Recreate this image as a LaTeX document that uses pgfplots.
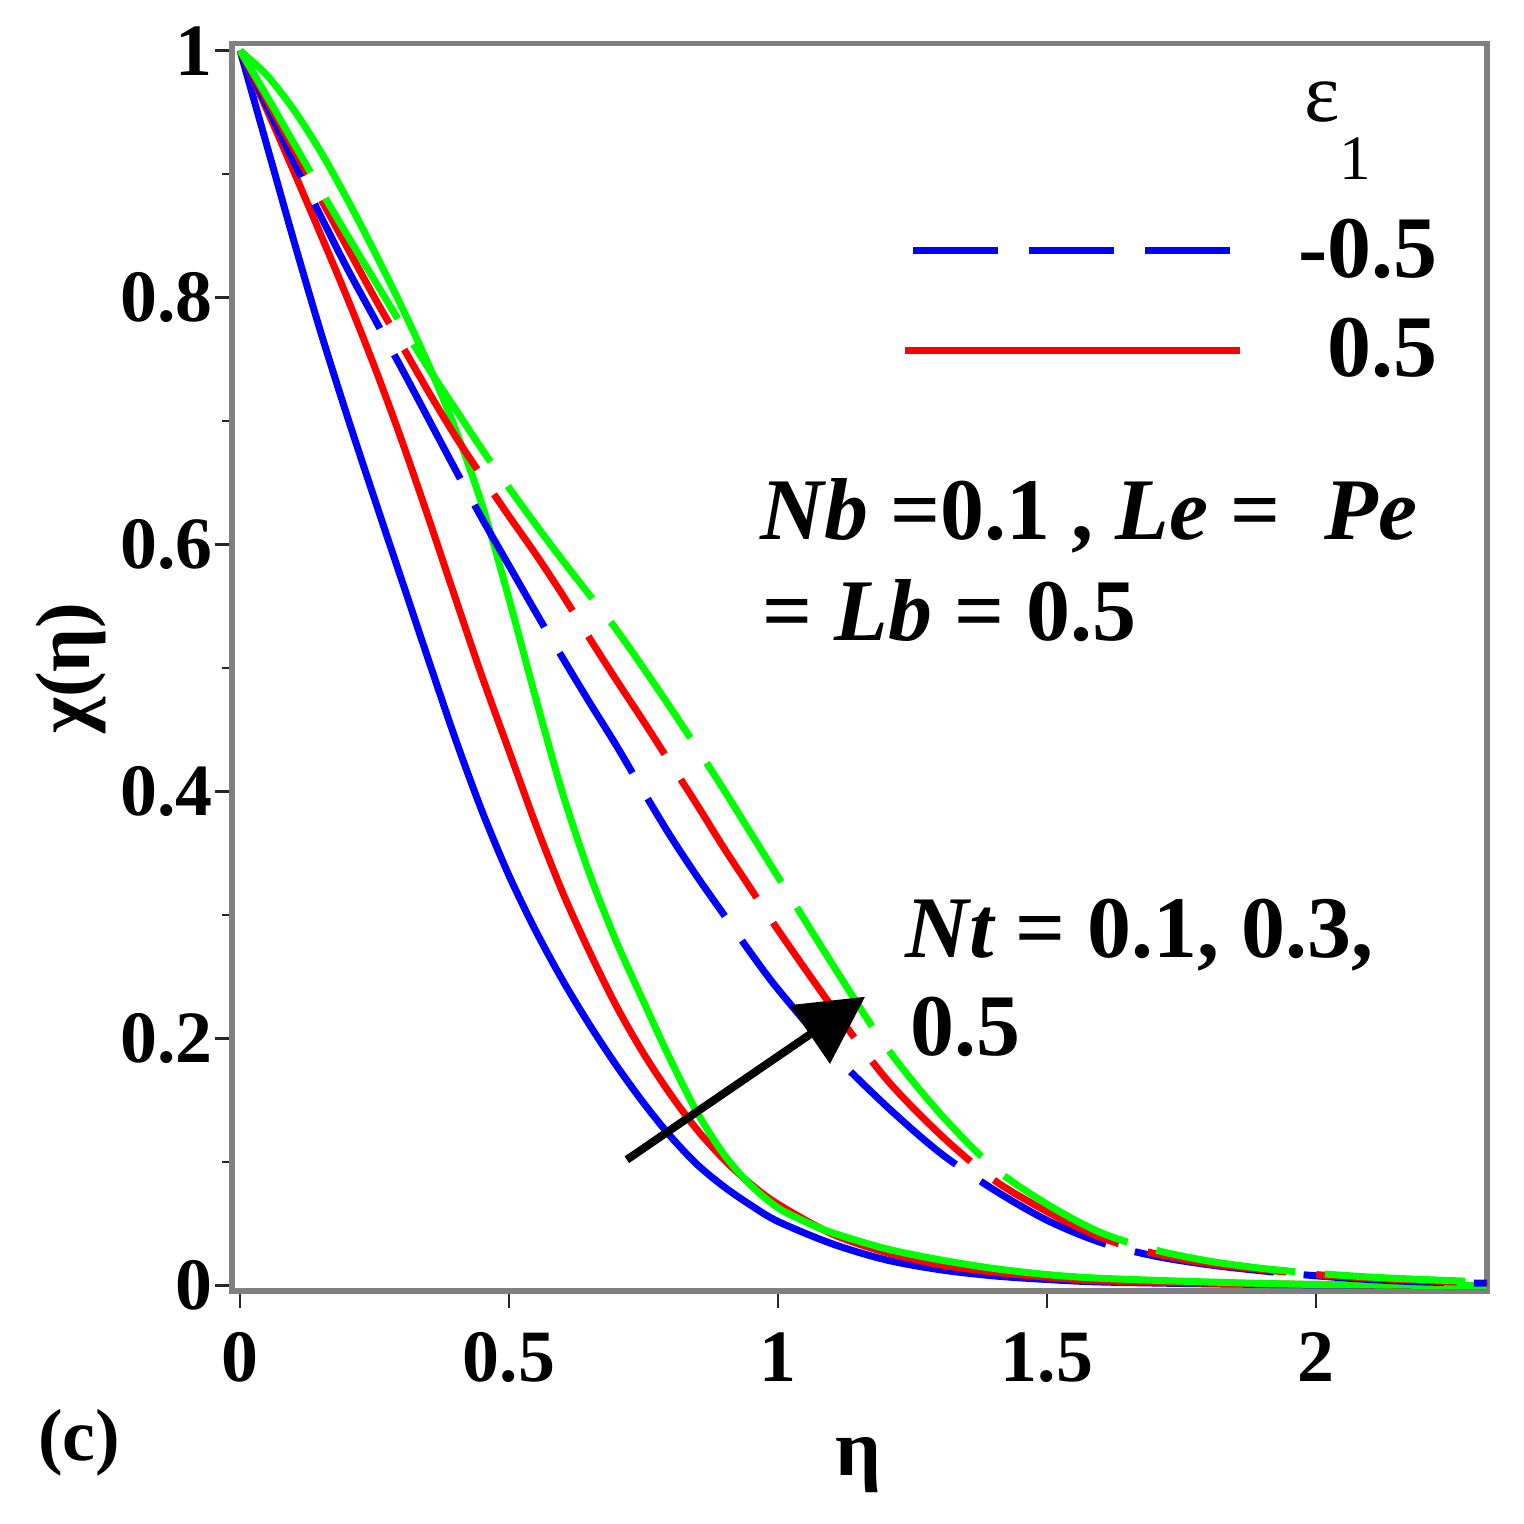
\documentclass[border=0pt]{standalone}
\usepackage{fontspec}
\setmainfont{Liberation Serif}
\usepackage{pgfplots}
\pgfplotsset{compat=1.18}
\usetikzlibrary{arrows.meta}
\definecolor{mblue}{RGB}{0,0,255}
\definecolor{mred}{RGB}{255,0,0}
\definecolor{mgreen}{RGB}{0,255,0}
\definecolor{mgray}{RGB}{128,128,128}
\begin{document}
\begin{tikzpicture}
\useasboundingbox (0,0) rectangle (15.24,15.24);
\begin{axis}[
  at={(2.32cm,2.33cm)}, anchor=south west,
  scale only axis, width=12.55cm, height=12.475cm,
  xmin=-0.015, xmax=2.318, ymin=-0.0043, ymax=1.0058,
  axis line style={mgray, line width=1.7pt},
  xtick={0,0.5,1,1.5,2}, ytick={0,0.2,0.4,0.6,0.8,1},
  minor ytick={0.1,0.3,0.5,0.7,0.9},
  xticklabels={0,0.5,1,1.5,2},
  yticklabels={0,0.2,0.4,0.6,0.8,1},
  tick align=outside, tick pos=left,
  major tick length=0.17cm, minor tick length=0.1cm,
  tick style={black!85, line width=0.7pt},
  ticklabel style={font=\fontsize{21}{25}\selectfont\bfseries},
  xticklabel style={yshift=-0.12cm},
  yticklabel style={xshift=0.1cm},
  xlabel={\fontsize{23}{27}\selectfont\bfseries η},
  ylabel={\fontsize{22}{26}\selectfont\bfseries χ(η)},
  xlabel style={at={(rel axis cs:0.499,-0.1475)}, anchor=base},
  ylabel style={at={(rel axis cs:-0.1283,0.4994)}, anchor=center, rotate=0},
  every axis plot/.append style={line width=2pt},
  legend style={draw=none, fill=none, inner sep=0pt,
    at={(rel axis cs:0.961,0.860)}, anchor=north east,
    font=\fontsize{25}{29}\selectfont\bfseries,
    nodes={inner sep=0pt}, row sep=0.36cm,
    /tikz/every odd column/.append style={column sep=0.55cm}},
  legend cell align=right,
]
\addlegendimage{legend image code/.code={\path[draw=none] (0cm,0cm) -- (3.35cm,0cm); \draw[mblue, line width=2pt, dash pattern=on 0.85cm off 0.31cm] (0.08cm,0cm) -- (3.25cm,0cm);}}
\addlegendimage{legend image code/.code={\draw[mred, line width=2pt] (0cm,0cm) -- (3.35cm,0cm);}}
\legend{-0.5,0.5}

% epsilon_1 = 0.5 (solid), Nt = 0.1, 0.3, 0.5
\addplot[mblue, smooth, forget plot] coordinates {
(0,1) (0.05,0.923) (0.1,0.846) (0.15,0.772) (0.2,0.703) (0.25,0.637) (0.3,0.572) (0.35,0.507) (0.4,0.443) (0.45,0.384) (0.5,0.332) (0.55,0.287) (0.6,0.247) (0.65,0.211) (0.7,0.178) (0.75,0.148) (0.8,0.121) (0.85,0.098) (0.9,0.08) (0.95,0.065) (1.0,0.052) (1.1,0.034) (1.2,0.021) (1.3,0.013) (1.4,0.008) (1.5,0.005) (1.6,0.003) (1.8,0.0015) (2.0,0.0007) (2.318,0)};
\addplot[mred, smooth, forget plot] coordinates {
(0,1) (0.05,0.952) (0.1,0.902) (0.15,0.851) (0.2,0.799) (0.25,0.744) (0.3,0.685) (0.35,0.622) (0.4,0.557) (0.45,0.493) (0.5,0.433) (0.55,0.373) (0.6,0.318) (0.65,0.27) (0.7,0.226) (0.75,0.188) (0.8,0.155) (0.85,0.126) (0.9,0.102) (0.95,0.082) (1.0,0.066) (1.1,0.042) (1.2,0.027) (1.3,0.017) (1.4,0.011) (1.5,0.007) (1.6,0.004) (1.8,0.002) (2.0,0.001) (2.318,0)};
\addplot[mgreen, smooth, forget plot] coordinates {
(0,1) (0.05,0.98) (0.1,0.952) (0.15,0.918) (0.2,0.879) (0.25,0.837) (0.3,0.793) (0.35,0.746) (0.4,0.694) (0.45,0.632) (0.5,0.556) (0.55,0.475) (0.6,0.398) (0.65,0.333) (0.7,0.278) (0.75,0.23) (0.8,0.183) (0.85,0.14) (0.9,0.106) (0.95,0.081) (1.0,0.063) (1.05,0.052) (1.1,0.043) (1.2,0.03) (1.3,0.021) (1.4,0.014) (1.5,0.009) (1.6,0.006) (1.8,0.003) (2.0,0.001) (2.318,0)};
% epsilon_1 = -0.5 (dashed)
\addplot[mblue, smooth, dash pattern=on 40pt off 8.5pt, forget plot] coordinates {
(0,1) (0.05,0.955) (0.1,0.91) (0.15,0.866) (0.2,0.823) (0.25,0.783) (0.3,0.743) (0.35,0.702) (0.4,0.661) (0.45,0.621) (0.5,0.583) (0.55,0.545) (0.6,0.508) (0.65,0.472) (0.7,0.437) (0.75,0.4) (0.8,0.364) (0.85,0.331) (0.9,0.30) (0.95,0.269) (1.0,0.24) (1.1,0.189) (1.2,0.146) (1.3,0.108) (1.4,0.078) (1.5,0.053) (1.6,0.035) (1.7,0.024) (1.8,0.017) (1.9,0.012) (2.0,0.008) (2.1,0.005) (2.2,0.003) (2.318,0.002)};
\addplot[mred, smooth, dash pattern=on 40pt off 8.5pt, forget plot] coordinates {
(0,1) (0.05,0.96) (0.1,0.92) (0.15,0.88) (0.2,0.84) (0.25,0.80) (0.3,0.762) (0.35,0.724) (0.4,0.688) (0.45,0.655) (0.5,0.623) (0.55,0.592) (0.6,0.559) (0.65,0.524) (0.7,0.49) (0.75,0.457) (0.8,0.423) (0.85,0.389) (0.9,0.354) (0.95,0.321) (1.0,0.288) (1.1,0.226) (1.2,0.168) (1.3,0.123) (1.4,0.086) (1.5,0.06) (1.6,0.039) (1.7,0.026) (1.8,0.018) (1.9,0.013) (2.0,0.009) (2.1,0.006) (2.2,0.004) (2.318,0.002)};
\addplot[mgreen, smooth, dash pattern=on 40pt off 8.5pt, forget plot] coordinates {
(0,1) (0.05,0.963) (0.1,0.925) (0.15,0.887) (0.2,0.85) (0.25,0.814) (0.3,0.778) (0.35,0.743) (0.4,0.71) (0.45,0.677) (0.5,0.646) (0.55,0.616) (0.6,0.587) (0.65,0.559) (0.7,0.531) (0.75,0.5) (0.8,0.468) (0.85,0.435) (0.9,0.401) (0.95,0.366) (1.0,0.331) (1.1,0.261) (1.2,0.194) (1.3,0.14) (1.4,0.096) (1.5,0.066) (1.6,0.043) (1.7,0.029) (1.8,0.02) (1.9,0.014) (2.0,0.01) (2.1,0.007) (2.2,0.005) (2.318,0.003)};

\draw[black, line width=0.08cm, -{Triangle[length=0.67cm,width=0.69cm]}] (axis cs:0.719,0.102) -- (axis cs:1.162,0.234);

\node[anchor=center, font=\fontsize{24}{28}\selectfont] at (rel axis cs:0.8685,0.953) {ε};
\node[anchor=center, font=\fontsize{18}{22}\selectfont] at (rel axis cs:0.8948,0.908) {1};
\node[anchor=base west, inner sep=0pt, font=\fontsize{25}{29}\selectfont\bfseries] at (rel axis cs:0.4207,0.602) {\itshape Nb \upshape =0.1 , \itshape Le \upshape = \ \itshape Pe};
\node[anchor=base west, inner sep=0pt, font=\fontsize{25}{29}\selectfont\bfseries] at (rel axis cs:0.4223,0.5218) {= \itshape Lb \upshape = 0.5};
\node[anchor=base west, inner sep=0pt, font=\fontsize{25}{29}\selectfont\bfseries] at (rel axis cs:0.5363,0.267) {\itshape Nt \upshape = 0.1, 0.3,};
\node[anchor=base west, inner sep=0pt, font=\fontsize{25}{29}\selectfont\bfseries] at (rel axis cs:0.540,0.189) {0.5};
\end{axis}
\node[anchor=center, font=\fontsize{21}{25}\selectfont\bfseries] at (0.79,0.81) {(c)};
\end{tikzpicture}
\end{document}
